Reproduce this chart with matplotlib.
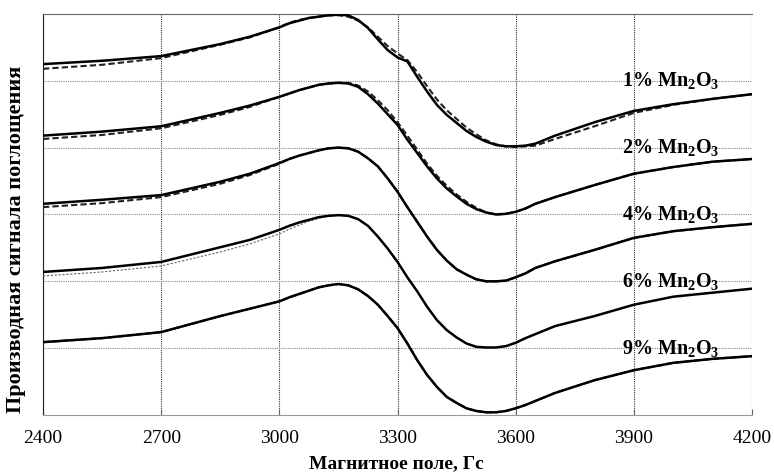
import matplotlib
matplotlib.use("Agg")
import matplotlib.pyplot as plt

plt.rcParams['font.family'] = ['Liberation Serif', 'DejaVu Serif']

# magnetic field, Gs
field = [2400, 2550, 2700, 2850, 2925, 3000, 3025, 3050, 3075, 3100, 3125, 3150, 3175,
         3200, 3225, 3250, 3275, 3300, 3325, 3350, 3375, 3400, 3425, 3450, 3475,
         3500, 3525, 3550, 3575, 3600, 3625, 3650, 3700, 3800, 3900, 4000, 4100, 4200]

# experimental spectra (solid), shifted vertically
exp_1 = [5.25, 5.30, 5.37, 5.55, 5.66, 5.80, 5.86, 5.90, 5.94, 5.96, 5.98, 5.99, 5.98,
         5.91, 5.79, 5.62, 5.46, 5.35, 5.29, 5.06, 4.84, 4.64, 4.49, 4.37, 4.25,
         4.16, 4.09, 4.04, 4.02, 4.02, 4.03, 4.06, 4.18, 4.38, 4.55, 4.65, 4.73, 4.80]
exp_2 = [4.18, 4.24, 4.32, 4.52, 4.63, 4.76, 4.81, 4.86, 4.90, 4.94, 4.96, 4.97, 4.96,
         4.91, 4.80, 4.66, 4.50, 4.34, 4.12, 3.92, 3.72, 3.54, 3.39, 3.27, 3.16,
         3.08, 3.03, 3.00, 3.01, 3.04, 3.09, 3.16, 3.26, 3.44, 3.61, 3.71, 3.79, 3.83]
exp_4 = [3.16, 3.22, 3.29, 3.49, 3.61, 3.77, 3.83, 3.88, 3.92, 3.96, 3.99, 4.00, 3.99,
         3.94, 3.84, 3.72, 3.54, 3.34, 3.11, 2.89, 2.67, 2.47, 2.31, 2.18, 2.10,
         2.03, 2.00, 2.00, 2.01, 2.06, 2.12, 2.20, 2.30, 2.47, 2.65, 2.75, 2.81, 2.86]
exp_6 = [2.14, 2.20, 2.29, 2.51, 2.62, 2.77, 2.83, 2.88, 2.92, 2.96, 2.98, 2.99, 2.98,
         2.93, 2.83, 2.67, 2.49, 2.29, 2.06, 1.85, 1.62, 1.42, 1.27, 1.16, 1.07,
         1.02, 1.01, 1.01, 1.03, 1.08, 1.15, 1.21, 1.33, 1.48, 1.65, 1.77, 1.83, 1.89]
exp_9 = [1.09, 1.15, 1.24, 1.48, 1.59, 1.70, 1.76, 1.81, 1.86, 1.91, 1.94, 1.96, 1.94,
         1.88, 1.78, 1.65, 1.48, 1.30, 1.07, 0.82, 0.60, 0.42, 0.27, 0.18, 0.10,
         0.06, 0.04, 0.04, 0.06, 0.10, 0.15, 0.21, 0.33, 0.52, 0.67, 0.78, 0.84, 0.88]

# simulated spectra (dashed)
sim_1 = [5.18, 5.24, 5.34, 5.54, 5.65, 5.80, 5.87, 5.91, 5.94, 5.96, 5.98, 5.98, 5.96,
         5.90, 5.80, 5.66, 5.52, 5.41, 5.31, 5.13, 4.92, 4.72, 4.56, 4.43, 4.30,
         4.20, 4.11, 4.05, 4.02, 4.01, 4.02, 4.03, 4.13, 4.32, 4.52, 4.64, 4.73, 4.80]
sim_2 = [4.13, 4.19, 4.29, 4.49, 4.61, 4.76, 4.81, 4.86, 4.90, 4.94, 4.96, 4.97, 4.97,
         4.93, 4.84, 4.71, 4.56, 4.38, 4.18, 3.97, 3.76, 3.58, 3.43, 3.30, 3.19,
         3.10, 3.03, 3.00, 3.01, 3.04, 3.09, 3.16, 3.26, 3.44, 3.61, 3.71, 3.79, 3.83]
sim_4 = [3.11, 3.17, 3.26, 3.46, 3.59, 3.76, 3.83, 3.88, 3.92, 3.96, 3.99, 4.00, 3.99,
         3.94, 3.84, 3.72, 3.54, 3.34, 3.11, 2.89, 2.67, 2.47, 2.31, 2.18, 2.10,
         2.03, 2.00, 2.00, 2.01, 2.06, 2.12, 2.20, 2.30, 2.47, 2.65, 2.75, 2.81, 2.86]
sim_6 = [2.08, 2.14, 2.23, 2.44, 2.56, 2.71, 2.78, 2.84, 2.90, 2.94, 2.98, 2.99, 2.98,
         2.93, 2.83, 2.67, 2.49, 2.29, 2.06, 1.85, 1.62, 1.42, 1.27, 1.16, 1.07,
         1.02, 1.01, 1.01, 1.03, 1.08, 1.15, 1.21, 1.33, 1.48, 1.65, 1.77, 1.83, 1.89]
sim_9 = [1.09, 1.15, 1.24, 1.48, 1.59, 1.70, 1.76, 1.81, 1.86, 1.91, 1.94, 1.96, 1.94,
         1.88, 1.78, 1.65, 1.48, 1.30, 1.07, 0.82, 0.60, 0.42, 0.27, 0.18, 0.10,
         0.06, 0.04, 0.04, 0.06, 0.10, 0.15, 0.21, 0.33, 0.52, 0.67, 0.78, 0.84, 0.88]

labels = ['1%', '2%', '4%', '6%', '9%']
label_y = [5, 4, 3, 2, 1]

experimental = [exp_1, exp_2, exp_4, exp_6, exp_9]
simulated = [sim_1, sim_2, sim_4, sim_6, sim_9]

fig = plt.figure(figsize=(7.74, 4.74), dpi=100)
ax = fig.add_axes([0.0556, 0.1245, 0.916, 0.846])

for i, (e, s) in enumerate(zip(experimental, simulated)):
    if i == 3:
        ax.plot(field, s, color='#666666', lw=0.8, ls=(0, (2, 1.5)), zorder=3)
    else:
        ax.plot(field, s, color='#222222', lw=1.5, ls=(0, (3, 1.5)), zorder=3)
    ax.plot(field, e, color='black', lw=1.8, zorder=4)

for lab, y in zip(labels, label_y):
    ax.text(3870, y, lab + r' Mn$\mathregular{_2}$O$\mathregular{_3}$',
            fontsize=14.5, fontweight='bold', va='center', ha='left', zorder=5)

ax.set_xlim(2400, 4200)
ax.set_ylim(0, 6)
ax.set_xticks([2400, 2700, 3000, 3300, 3600, 3900, 4200])
ax.set_yticks([1, 2, 3, 4, 5])
ax.set_yticklabels([])
ax.tick_params(axis='y', length=0)
ax.tick_params(axis='x', direction='in', length=4, color='#666666',
               labelsize=14, pad=11)

ax.grid(axis='x', color='#333333', ls=(0, (1, 1)), lw=0.8)
ax.grid(axis='y', color='#888888', ls=(0, (1, 1)), lw=0.8)
ax.set_axisbelow(True)

ax.spines['right'].set_visible(False)
ax.spines['top'].set_color('#666666')
ax.spines['bottom'].set_color('#999999')
ax.spines['left'].set_color('#222222')

fig.text(0.512, 0.021, 'Магнитное поле, Гс', fontsize=14, fontweight='bold',
         ha='center', va='center')
fig.text(0.021, 0.496, 'Производная сигнала поглощения', rotation=90,
         fontsize=16, fontweight='bold', ha='center', va='center')

fig.savefig('out.png', dpi=100)
